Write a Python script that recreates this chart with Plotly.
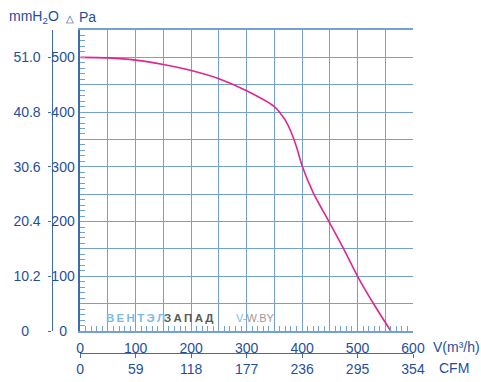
import plotly.graph_objects as go

# ---- data ----
flow_m3h = [0, 50, 100, 150, 200, 250, 300, 350, 360, 370, 380, 390, 400, 420, 450, 475, 500, 530, 560]
pressure_pa = [500, 499, 495, 487, 476, 461, 439, 410, 399, 385, 364, 336, 302, 253, 197, 150, 100, 48, 0]

pa_ticks = [0, 100, 200, 300, 400, 500]
mmh2o_ticks = [0, 10.2, 20.4, 30.6, 40.8, 51.0]
mmh2o_labels = ["0\u2007\u2008", "10.2", "20.4", "30.6", "40.8", "51.0"]
flow_ticks = [0, 100, 200, 300, 400, 500, 600]
cfm_ticks = [0, 59, 118, 177, 236, 295, 354]

W, H = 481, 382
ML, MR, MT, MB = 0, 68, 30, 0
PW, PH = W - ML - MR, H - MT - MB

def px(x):
    return (x - ML) / PW

def py(y):
    return (H - MB - y) / PH

BLUE_TXT = "#1f4f9c"
GRID = "#74a0d6"
AXIS = "#3f6cb0"
FONT = "Liberation Sans, Arial, sans-serif"

x_dom = [px(77), 1]
y_dom = [py(338), 1]

fig = go.Figure()
fig.add_trace(go.Scatter(x=flow_m3h, y=pressure_pa, mode="lines",
                         line=dict(color="#e0268c", width=1.6, shape="spline", smoothing=0.7),
                         hoverinfo="skip", showlegend=False))
# helper invisible traces to anchor the secondary scales
fig.add_trace(go.Scatter(x=[0], y=[0], xaxis="x", yaxis="y2", mode="markers",
                         marker=dict(opacity=0), hoverinfo="skip", showlegend=False))
fig.add_trace(go.Scatter(x=[0], y=[0], xaxis="x2", yaxis="y", mode="markers",
                         marker=dict(opacity=0), hoverinfo="skip", showlegend=False))

grid_x = list(range(0, 601, 50))
grid_y = list(range(0, 551, 50))

fig.update_layout(
    width=W, height=H,
    margin=dict(l=ML, r=MR, t=MT, b=MB),
    paper_bgcolor="white", plot_bgcolor="white",
    font=dict(family=FONT, size=14, color=BLUE_TXT),
    xaxis=dict(domain=x_dom, range=[0, 600], anchor="y",
               tickvals=grid_x,
               ticktext=[str(v) if v in flow_ticks else "" for v in grid_x],
               ticks="inside", ticklen=5, tickcolor=GRID, tickwidth=1.2,
               minor=dict(dtick=10, ticks="inside", ticklen=5, tickcolor=GRID, tickwidth=1.2, showgrid=False),
               showgrid=True, gridcolor=GRID, gridwidth=1.3,
               showline=True, linecolor=GRID, linewidth=1.5, mirror=True,
               zeroline=False, tickfont=dict(size=14, color=BLUE_TXT),
               ticklabelstandoff=3, fixedrange=True),
    yaxis=dict(domain=y_dom, range=[0, 550], anchor="x",
               tickvals=grid_y,
               ticktext=[("0\u2007" if v == 0 else str(v)) if v in pa_ticks else "" for v in grid_y],
               ticks="inside", ticklen=5, tickcolor=GRID, tickwidth=1.2,
               minor=dict(dtick=10, ticks="inside", ticklen=5, tickcolor=GRID, tickwidth=1.2, showgrid=False),
               showgrid=True, gridcolor=GRID, gridwidth=1.3,
               showline=True, linecolor=AXIS, linewidth=1.5, mirror=False,
               zeroline=False, tickfont=dict(size=14, color=BLUE_TXT),
               ticklabelstandoff=1, fixedrange=True),
    yaxis2=dict(domain=y_dom, range=[0, 550 * 0.102], overlaying="y", anchor="free",
                position=px(48), side="left",
                tickvals=mmh2o_ticks, ticktext=mmh2o_labels,
                ticks="outside", ticklen=3, tickcolor=AXIS, tickwidth=1.2,
                showgrid=False, zeroline=False,
                showline=True, linecolor=AXIS, linewidth=1.2,
                tickfont=dict(size=14, color=BLUE_TXT),
                ticklabelstandoff=5, fixedrange=True),
    xaxis2=dict(domain=x_dom, range=[0, 354], overlaying="x", anchor="free",
                position=py(360), side="bottom",
                tickvals=cfm_ticks, ticktext=[str(v) for v in cfm_ticks],
                ticks="outside", ticklen=4, tickcolor=AXIS, tickwidth=1.2,
                showgrid=False, zeroline=False,
                showline=True, linecolor=AXIS, linewidth=1.2,
                tickfont=dict(size=14, color=BLUE_TXT), fixedrange=True),
)

ann = []
def text(s, x, y, size=14, color=BLUE_TXT, xanchor="left", bold=False):
    ann.append(dict(text=(f"<b>{s}</b>" if bold else s), x=px(x), y=py(y), xref="paper", yref="paper",
                    xanchor=xanchor, yanchor="middle", showarrow=False,
                    font=dict(family=FONT, size=size, color=color)))

text("mmH<sub>2</sub>O", 3, 17)
text("\u25b3", 67, 18, size=10, xanchor="center")
text("Pa", 74, 17)
text("V(m\u00b3/h)", 431, 354)
text("CFM", 437, 376)
# watermark
ts = "\u2009"
text(ts.join("ВЕНТЭЛ"), 101, 325, size=11.5, color="#7cbbe8", bold=True)
text(ts.join("ЗАПАД"), 160, 325, size=11.5, color="#5a5a5a", bold=True)
text("<span style='color:#7cbbe8'>V-</span>W.BY", 232, 325, size=11, color="#9a9a9a")

fig.update_layout(annotations=ann)
fig.write_html("out.html", config={"displayModeBar": False},
               post_script="document.body.style.margin='0';document.body.style.overflow='hidden';")
